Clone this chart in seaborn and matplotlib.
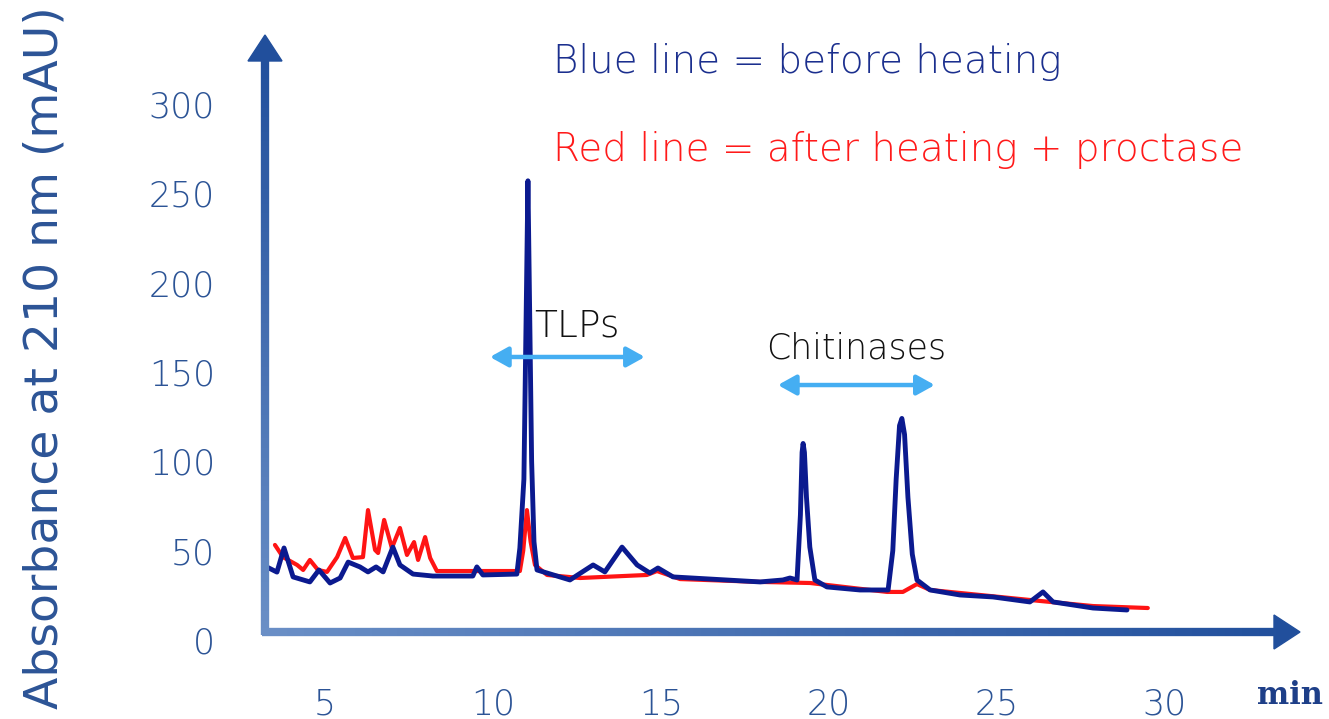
import numpy as np
import pandas as pd
import matplotlib
matplotlib.use("Agg")
import matplotlib.pyplot as plt
import seaborn as sns
from matplotlib.collections import LineCollection
from matplotlib.patches import Polygon
from matplotlib.colors import to_rgb

# Retention time (min) and absorbance (mAU) before heating
blue_time = [3.21, 3.57, 3.78, 4.05, 4.55, 4.82, 5.15, 5.45, 5.69, 6.04, 6.28, 6.52, 6.73,
             7.02, 7.23, 7.62, 8.21, 9.40, 9.52, 9.70, 10.71, 10.80, 10.92, 11.00, 11.04,
             11.08, 11.15, 11.22, 11.31, 12.29, 12.98, 13.33, 13.84, 14.29, 14.67, 14.91,
             15.36, 17.95, 18.63, 18.84, 19.05, 19.15, 19.20, 19.23, 19.27, 19.33, 19.43,
             19.58, 19.94, 20.92, 21.76, 21.90, 22.00, 22.10, 22.17, 22.25, 22.35, 22.48,
             22.62, 23.01, 23.90, 24.88, 25.98, 26.37, 26.67, 27.86, 28.87]
blue_abs = [41.4, 38.0, 51.5, 35.3, 32.5, 39.2, 31.9, 34.7, 43.6, 40.9, 38.1, 40.9, 38.1,
            52.0, 42.0, 36.9, 35.8, 35.8, 40.9, 36.4, 36.9, 51.5, 90.0, 200.0, 257.0,
            200.0, 100.0, 55.0, 39.2, 33.6, 42.0, 38.1, 52.0, 42.0, 37.5, 40.3,
            35.3, 32.5, 33.6, 34.7, 33.6, 70.0, 105.0, 110.0, 105.0, 80.0, 52.0,
            33.6, 29.7, 28.0, 28.0, 50.0, 90.0, 120.0, 124.0, 115.0, 80.0, 48.0,
            33.6, 28.0, 25.2, 24.1, 21.3, 26.9, 21.3, 17.9, 16.8]

# Retention time (min) and absorbance (mAU) after heating + proctase
red_time = [3.51, 3.75, 4.17, 4.35, 4.55, 4.79, 5.06, 5.36, 5.60, 5.83, 6.13, 6.28, 6.49,
            6.58, 6.76, 6.99, 7.23, 7.44, 7.65, 7.77, 7.98, 8.13, 8.33, 9.40, 10.80,
            10.90, 11.01, 11.12, 11.25, 11.61, 12.59, 14.58, 14.88, 15.57, 17.95, 19.44,
            21.73, 22.20, 22.40, 22.62, 23.01, 25.98, 27.86, 29.49]
red_abs = [53.2, 46.4, 42.0, 39.2, 44.8, 39.2, 38.1, 46.4, 57.1, 45.9, 46.4, 72.7, 50.4,
           48.7, 67.2, 51.5, 62.7, 47.6, 54.8, 44.8, 57.6, 45.9, 38.6, 38.6, 38.6,
           50.0, 72.7, 55.0, 42.0, 36.4, 34.7, 36.4, 38.6, 34.1, 32.5, 31.9,
           26.9, 26.9, 29.0, 31.3, 28.0, 22.4, 19.0, 17.9]

y_ticks = [0, 50, 100, 150, 200, 250, 300]
x_ticks = [5, 10, 15, 20, 25, 30]

BLUE_LINE = "#0b1a8f"
RED_LINE = "#ff1414"
AXIS_TEXT = "#2c5496"
ARROW_BLUE = "#45aef2"

sns.set_theme(style="white")
plt.rcParams["font.family"] = ["DejaVu Sans"]

fig = plt.figure(figsize=(13.29, 7.19), dpi=100)
ax = fig.add_axes([265 / 1329, 79 / 719, 1035 / 1329, 605 / 719])

before = pd.DataFrame({"time": blue_time, "abs": blue_abs})
after = pd.DataFrame({"time": red_time, "abs": red_abs})
sns.lineplot(data=after, x="time", y="abs", ax=ax, color=RED_LINE, lw=3.0,
             solid_joinstyle="round", solid_capstyle="round")
sns.lineplot(data=before, x="time", y="abs", ax=ax, color=BLUE_LINE, lw=3.5,
             solid_joinstyle="round", solid_capstyle="round")

ax.set_xlim(3.214, 34.02)
ax.set_ylim(0, 338.6)
for s in ax.spines.values():
    s.set_visible(False)

ax.set_xticks(x_ticks)
ax.set_xticklabels([str(v) for v in x_ticks])
ax.set_yticks(y_ticks)
ax.set_yticklabels([str(v) for v in y_ticks])
ax.tick_params(axis="both", length=0, labelcolor=AXIS_TEXT, labelsize=25)
ax.tick_params(axis="y", pad=36)
ax.tick_params(axis="x", pad=34)
for t in ax.get_xticklabels() + ax.get_yticklabels():
    t.set_fontweight("light")
ax.set_xlabel("")
ax.set_ylabel("")

# Gradient axis arrows
light, dark = np.array(to_rgb("#6a8fc6")), np.array(to_rgb("#214f9c"))
y0 = 8 / 605
n = 120

def grad_shaft(p0, p1):
    pts = np.linspace(p0, p1, n + 1)
    segs = np.stack([pts[:-1], pts[1:]], axis=1)
    cols = [light + (dark - light) * k / n for k in range(n)]
    lc = LineCollection(segs, colors=cols, linewidths=6, transform=ax.transAxes,
                        clip_on=False, capstyle="butt")
    ax.add_collection(lc)

head_len_v, head_half_v = 26 / 605, 17 / 1035
head_len_h, head_half_h = 26 / 1035, 17 / 605
grad_shaft(np.array([0, y0 - 3 / 605]), np.array([0, 1 - head_len_v + 0.002]))
grad_shaft(np.array([-3 / 1035, y0]), np.array([1 - head_len_h + 0.002, y0]))
ax.add_patch(Polygon([[0, 1], [-head_half_v, 1 - head_len_v], [head_half_v, 1 - head_len_v]],
                     closed=True, color=dark, transform=ax.transAxes, clip_on=False))
ax.add_patch(Polygon([[1, y0], [1 - head_len_h, y0 + head_half_h], [1 - head_len_h, y0 - head_half_h]],
                     closed=True, color=dark, transform=ax.transAxes, clip_on=False))

# Peak group annotations
ax.annotate("", xy=(9.91, 158.4), xytext=(14.52, 158.4),
            arrowprops=dict(arrowstyle="<|-|>,head_length=0.9,head_width=0.5",
                            color=ARROW_BLUE, lw=3.2, shrinkA=0, shrinkB=0))
ax.annotate("", xy=(18.48, 142.7), xytext=(23.15, 142.7),
            arrowprops=dict(arrowstyle="<|-|>,head_length=0.9,head_width=0.5",
                            color=ARROW_BLUE, lw=3.2, shrinkA=0, shrinkB=0))
ax.text(12.5, 176, "TLPs", fontsize=27, color="#111111", ha="center", va="center",
        fontweight="light")
ax.text(20.8, 163.4, "Chitinases", fontsize=25, color="#111111", ha="center", va="center",
        fontweight="light")

# Line key
ax.text(11.79, 323.4, "Blue line = before heating", fontsize=28, color="#1b2f8e",
        ha="left", va="center", fontweight="light")
ax.text(11.79, 274, "Red line = after heating + proctase", fontsize=28, color="#ff1a1a",
        ha="left", va="center", fontweight="light")

fig.text(45 / 1329, 1 - 358 / 719, "Absorbance at 210 nm (mAU)", rotation=90,
         fontsize=34, color=AXIS_TEXT, ha="center", va="center")
fig.text(1290 / 1329, 1 - 695 / 719, "min", fontsize=22, color="#1e3f88",
         ha="center", va="center", fontweight="bold", family=["DejaVu Serif"])

fig.savefig("out.png", dpi=100)
